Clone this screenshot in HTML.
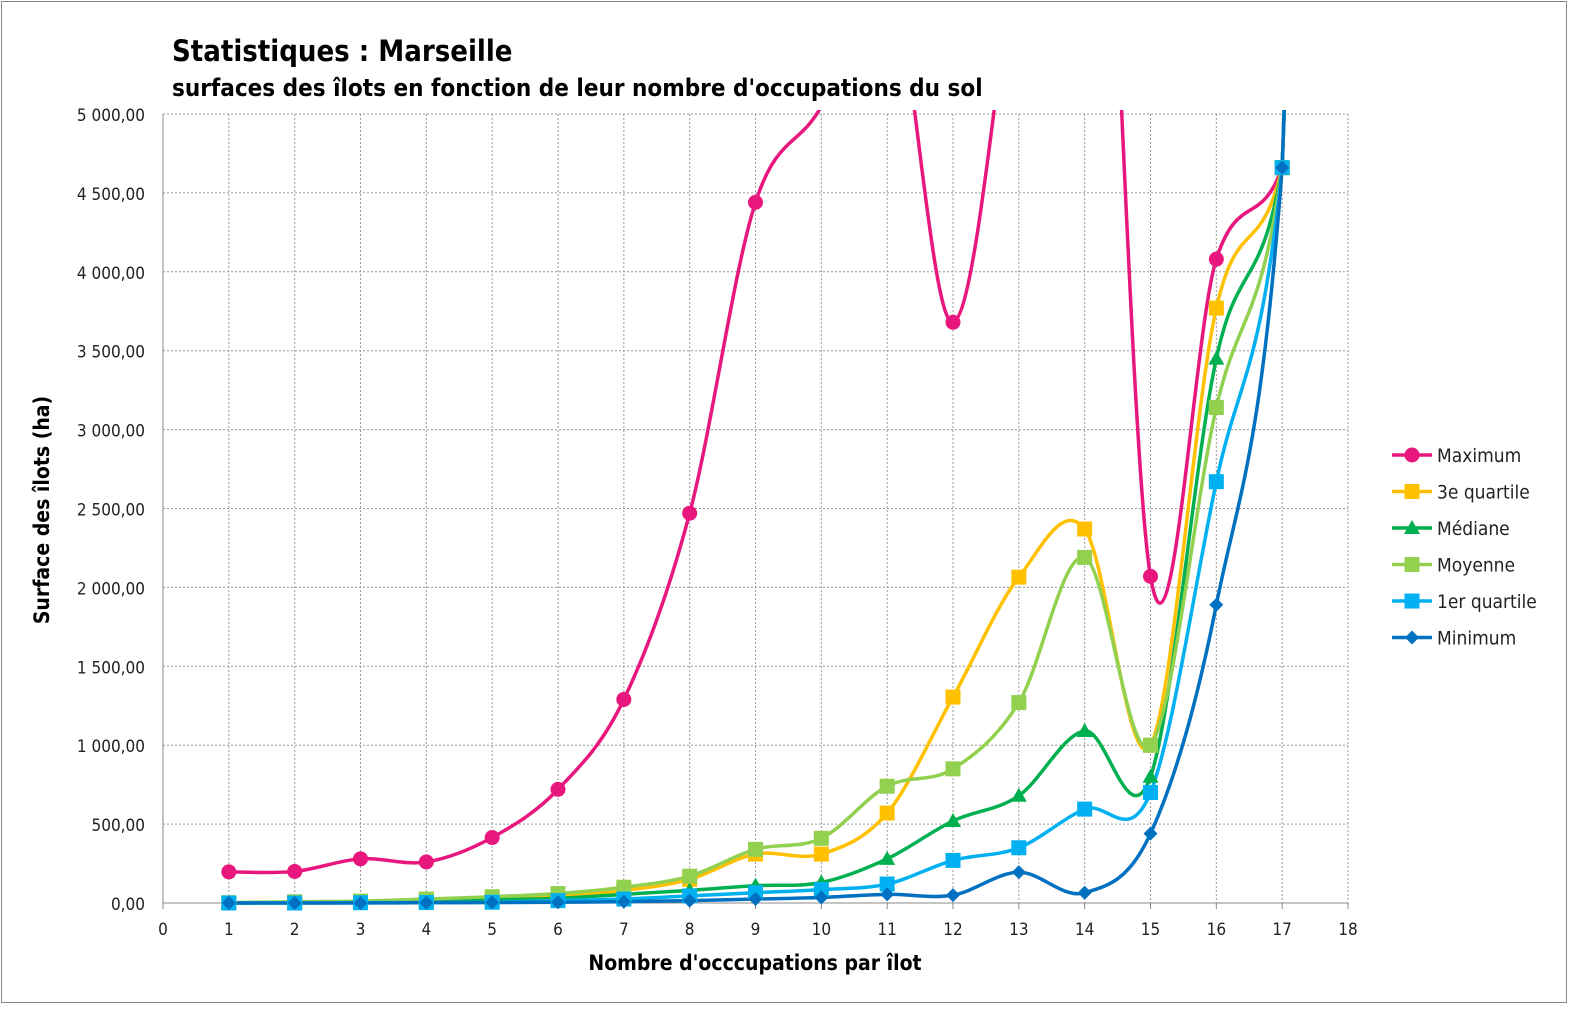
<!DOCTYPE html>
<html><head><meta charset="utf-8"><style>
body{margin:0;background:#fff;}
svg text{font-family:"DejaVu Sans","Liberation Sans",sans-serif;}
</style></head><body>
<svg id="s" width="1575" height="1008" xmlns="http://www.w3.org/2000/svg">
<rect x="1.5" y="1.5" width="1565" height="1001" fill="#fff" stroke="#888" stroke-width="1"/>
<text x="172" y="61" font-size="29" font-weight="bold" font-stretch="condensed">Statistiques : Marseille</text>
<text x="172" y="96" font-size="24" font-weight="bold" font-stretch="condensed">surfaces des îlots en fonction de leur nombre d'occupations du sol</text>
<g id="grid"></g>
<defs><clipPath id="c"><rect x="163" y="110" width="1185" height="797"/></clipPath></defs>
<g id="series" clip-path="url(#c)"></g>
<g id="marks"></g>
<text transform="translate(49,510) rotate(-90)" text-anchor="middle" font-size="21" font-weight="bold" font-stretch="condensed">Surface des îlots (ha)</text>
<text x="755" y="970" text-anchor="middle" font-size="21" font-weight="bold" font-stretch="condensed">Nombre d'occcupations par îlot</text>
<g id="leg"></g>
</svg>
<script>
const NS="http://www.w3.org/2000/svg";
const X=v=>163+v*(1185/18), Y=v=>903-v*(789/5000);
function el(t,a,p,txt){const e=document.createElementNS(NS,t);for(const k in a)e.setAttribute(k,a[k]);if(txt!=null)e.textContent=txt;document.getElementById(p).appendChild(e);return e;}
for(let i=0;i<=10;i++){const y=Y(i*500);
 el('line',{x1:163,x2:1348,y1:y,y2:y,stroke:i==0?'#888':'#999','stroke-dasharray':i==0?'':'2,2','stroke-width':1},'grid');
 const v=i*500; let s=(v>=1000?Math.floor(v/1000)+' '+String(v%1000).padStart(3,'0'):String(v))+',00';
 el('text',{x:145,y:y+7,'text-anchor':'end','font-size':17,'font-stretch':'condensed',fill:'#222'},'grid',s);}
for(let i=0;i<=18;i++){const x=X(i);
 el('line',{x1:x,x2:x,y1:114,y2:903,stroke:i==0?'#888':'#999','stroke-dasharray':i==0?'':'2,2'},'grid');
 el('line',{x1:x,x2:x,y1:903,y2:909,stroke:'#888'},'grid');
 el('text',{x:x,y:935,'text-anchor':'middle','font-size':17,'font-stretch':'condensed',fill:'#222'},'grid',String(i));}
const S=[
['Maximum','#E8177D','c',[197,200,280,260,415,720,1290,2470,4440,5050,6000,3680,6200,9000,2070,4080,4660]],
['3e quartile','#FFC000','s',[0,5,10,20,30,45,80,150,310,310,570,1305,2065,2370,1000,3770,4660]],
['Médiane','#00B050','t',[0,3,8,10,20,30,55,80,110,130,280,520,680,1090,800,3450,4660]],
['Moyenne','#92D050','s',[2,8,12,25,40,60,100,170,340,410,740,850,1270,2190,1000,3140,4660]],
['1er quartile','#00B0F0','s',[0,0,2,3,5,15,25,45,65,85,120,270,350,595,700,2670,4660]],
['Minimum','#0070C0','d',[0,0,0,2,3,5,8,15,25,35,55,50,195,65,440,1890,4660]]];
function mark(g,x,y,m,c){
 if(m=='c')el('circle',{cx:x,cy:y,r:7.5,fill:c},g);
 else if(m=='s')el('rect',{x:x-7.5,y:y-7.5,width:15,height:15,fill:c},g);
 else if(m=='t')el('polygon',{points:`${x},${y-8} ${x+8},${y+6} ${x-8},${y+6}`,fill:c},g);
 else el('polygon',{points:`${x},${y-7} ${x+7},${y} ${x},${y+7} ${x-7},${y}`,fill:c},g);}
S.forEach((s,k)=>{
 const vals=s[3].slice(); const v16=vals[15];
 const P=vals.map((v,i)=>[X(i+1),Y(v)]);
 const phantom=[X(18),Y(4660+3*(4660-v16))];
 const Q=P.concat([phantom]);
 let d=`M${P[0][0]},${P[0][1]}`;
 for(let i=0;i<P.length-1;i++){const p0=Q[Math.max(0,i-1)],p1=Q[i],p2=Q[i+1],p3=Q[i+2];
  const t=1/6;
  d+=` C${p1[0]+(p2[0]-p0[0])*t},${p1[1]+(p2[1]-p0[1])*t} ${p2[0]-(p3[0]-p1[0])*t},${p2[1]-(p3[1]-p1[1])*t} ${p2[0]},${p2[1]}`;}
 d+=` L${X(17.08)},${Y(5600)}`;
 el('path',{d:d,fill:'none',stroke:s[1],'stroke-width':3.5},'series');
 vals.forEach((v,i)=>{if(v<=5000)mark('marks',X(i+1),Y(v),s[2],s[1]);});
 const ly=455+k*36.5;
 el('line',{x1:1392,x2:1432,y1:ly,y2:ly,stroke:s[1],'stroke-width':3.5},'leg');
 mark('leg',1412,ly,s[2],s[1]);
 el('text',{x:1437,y:ly+7,'font-size':19,'font-stretch':'condensed',fill:'#222'},'leg',s[0]);
});
</script>
</body></html>
